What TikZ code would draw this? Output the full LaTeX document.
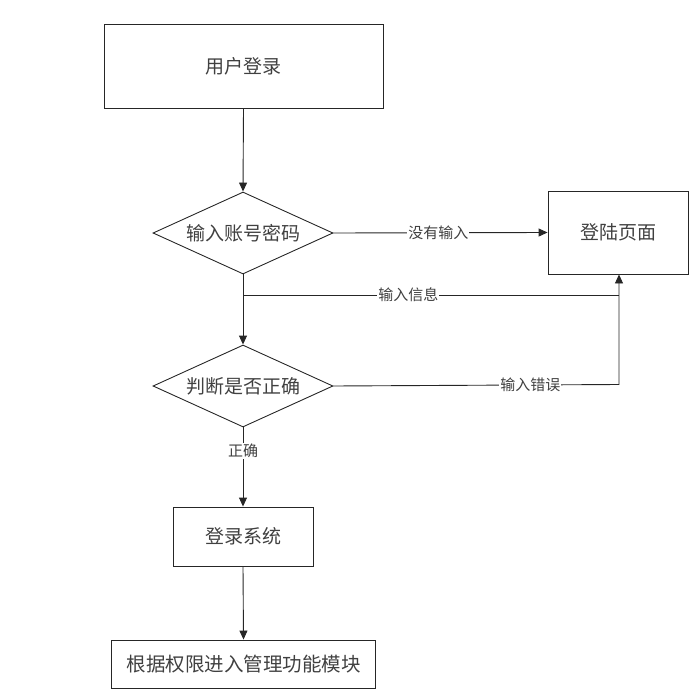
\documentclass[tikz,border=0pt]{standalone}
\usepackage{fontspec}
\newfontfamily\cjk{Noto Sans CJK SC}
\usetikzlibrary{shapes.geometric,arrows.meta}
\begin{document}
\begin{tikzpicture}[x=1pt,y=-1pt,
  box/.style={draw=black!85,line width=0.9pt,inner sep=0pt,text=black!75,font=\cjk\fontsize{19}{22}\selectfont},
  dec/.style={draw=black!85,line width=0.9pt,shape=diamond,aspect=2.2,minimum width=180pt,minimum height=82pt,inner sep=0pt,text=black!75,font=\cjk\fontsize{19}{22}\selectfont},
  lbl/.style={fill=white,inner sep=1pt,text=black!75,font=\cjk\fontsize{15}{17}\selectfont},
  conn/.style={draw=black!85,line width=0.9pt},
  arr/.style={conn,-{Triangle[length=9pt,width=8pt]}}]
\useasboundingbox (0,0) rectangle (693,690);
\node[box,minimum width=279pt,minimum height=84pt] (start) at (243.5,66) {用户登录};
\node[dec] (d1) at (243,233) {输入账号密码};
\node[box,minimum width=140pt,minimum height=83pt] (page) at (618,232.5) {登陆页面};
\node[dec] (d2) at (243,386) {判断是否正确};
\node[box,minimum width=140pt,minimum height=59pt] (sys) at (243,536.5) {登录系统};
\node[box,minimum width=264pt,minimum height=48pt,font=\cjk\fontsize{19.5}{22}\selectfont] (mod) at (243.5,664) {根据权限进入管理功能模块};
\coordinate (j1) at (243,295);
\coordinate (c1) at (619,295);
\coordinate (c2) at (619,384.5);
\draw[arr] (start.south) -- (d1.north);
\draw[arr] (d1.east) -- node[lbl,pos=0.49] {没有输入} (page.west);
\draw[arr] (d1.south) -- (d2.north);
\draw[conn] (j1) -- node[lbl,pos=0.44] {输入信息} (c1);
\draw[arr] (d2.east) -- node[lbl,pos=0.69] {输入错误} (c2) -- (page.south -| c2);
\draw[arr] (d2.south) -- node[lbl,pos=0.3] {正确} (sys.north);
\draw[arr] (sys.south) -- (mod.north);
\end{tikzpicture}
\end{document}
